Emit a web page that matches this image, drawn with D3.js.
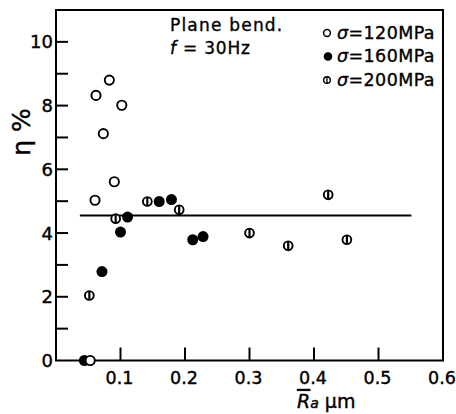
<!DOCTYPE html>
<html><head><meta charset="utf-8">
<script src="https://cdn.jsdelivr.net/npm/d3@7"></script>
<style>
html,body{margin:0;padding:0;background:#fff;}
svg{display:block;}
text{font-family:"DejaVu Sans",sans-serif;fill:#000;}
</style></head>
<body>
<svg id="chart" width="456" height="414"></svg>
<script>
// ---- data ----
const s120 = [[0.053,0],[0.0605,5.03],[0.062,8.32],[0.0734,7.12],[0.0827,8.80],[0.0904,5.61],[0.102,8.01]];
const s160 = [[0.044,0],[0.0713,2.79],[0.100,4.03],[0.111,4.50],[0.160,4.99],[0.179,5.05],[0.212,3.79],[0.228,3.89]];
const s200 = [[0.0517,2.04],[0.0925,4.45],[0.1416,4.99],[0.191,4.73],[0.300,4.00],[0.360,3.60],[0.422,5.20],[0.451,3.79]];
const meanLine = [[0.037,4.55],[0.551,4.55]];
const xTicks = [0.1,0.2,0.3,0.4,0.5,0.6];
const yTicks = [1,2,3,4,5,6,7,8,9,10];
const yLabels = [0,2,4,6,8,10];
const legendLabels = ["=120MPa","=160MPa","=200MPa"];
const noteLines = ["Plane bend.","= 30Hz"];

const svg = d3.select("#chart");
const x = d3.scaleLinear().domain([0,0.6]).range([56,443]);
const y = d3.scaleLinear().domain([0,11]).range([360.5,10]);

// frame
svg.append("rect").attr("x",x(0)).attr("y",y(11)).attr("width",x(0.6)-x(0)).attr("height",y(0)-y(11))
  .attr("fill","none").attr("stroke","#000").attr("stroke-width",2);

// y ticks (inward)
svg.append("g").selectAll("line").data(yTicks).join("line")
  .attr("x1",x(0)).attr("x2",x(0)+12).attr("y1",d=>y(d)).attr("y2",d=>y(d))
  .attr("stroke","#000").attr("stroke-width",2);
svg.append("g").selectAll("text").data(yLabels).join("text")
  .attr("x",x(0)-3).attr("y",d=>y(d)).attr("dy","0.36em").attr("text-anchor","end")
  .attr("font-size",18).attr("stroke","#000").attr("stroke-width",0.4).text(d=>d);

// x ticks (inward)
svg.append("g").selectAll("line").data(xTicks.filter(d=>d<0.6)).join("line")
  .attr("x1",d=>x(d)).attr("x2",d=>x(d)).attr("y1",y(0)).attr("y2",y(0)-13)
  .attr("stroke","#000").attr("stroke-width",2);
svg.append("g").selectAll("text").data(xTicks).join("text")
  .attr("x",d=>x(d)-1).attr("y",384).attr("text-anchor","middle")
  .attr("font-size",17.5).attr("stroke","#000").attr("stroke-width",0.4).text(d=>d.toFixed(1));

// axis titles
const xt = svg.append("text").attr("x",297).attr("y",408).attr("font-size",19).attr("stroke","#000").attr("stroke-width",0.4);
xt.append("tspan").attr("font-style","italic").style("text-decoration","overline").text("R");
xt.append("tspan").attr("font-style","italic").attr("font-size",14).text("a");
xt.append("tspan").text(" μm");

svg.append("text").attr("transform","translate(30,132) rotate(-90)")
  .attr("text-anchor","middle").attr("font-size",25).attr("stroke","#000").attr("stroke-width",0.4).text("η %");

// mean line
svg.append("path").datum(meanLine)
  .attr("d",d3.line().x(d=>x(d[0])).y(d=>y(d[1])))
  .attr("stroke","#000").attr("stroke-width",2).attr("fill","none");

// points
svg.append("g").selectAll("circle").data(s160).join("circle")
  .attr("cx",d=>x(d[0])).attr("cy",d=>y(d[1])).attr("r",5.5).attr("fill","#000");
svg.append("g").selectAll("circle").data(s120).join("circle")
  .attr("cx",d=>x(d[0])).attr("cy",d=>y(d[1])).attr("r",4.6)
  .attr("fill","#fff").attr("stroke","#000").attr("stroke-width",1.9);
const g200 = svg.append("g").selectAll("g").data(s200).join("g")
  .attr("transform",d=>`translate(${x(d[0])},${y(d[1])})`);
g200.append("circle").attr("r",4.4).attr("fill","#fff").attr("stroke","#000").attr("stroke-width",1.9);
g200.append("line").attr("x1",0).attr("x2",0).attr("y1",-4.4).attr("y2",4.4).attr("stroke","#000").attr("stroke-width",2.2);

// annotation
svg.append("text").attr("x",170).attr("y",31).attr("font-size",17).attr("letter-spacing",1.2)
  .attr("stroke","#000").attr("stroke-width",0.35).text(noteLines[0]);
const t2 = svg.append("text").attr("x",170).attr("y",54).attr("font-size",17).attr("letter-spacing",0.8)
  .attr("stroke","#000").attr("stroke-width",0.35);
t2.append("tspan").attr("font-style","italic").text("f");
t2.append("tspan").text(" " + noteLines[1]);

// legend
const rows = [33,56.5,80];
const lg = svg.append("g");
lg.append("circle").attr("cx",327).attr("cy",rows[0]).attr("r",3.4).attr("fill","#fff").attr("stroke","#000").attr("stroke-width",1.5);
lg.append("circle").attr("cx",328).attr("cy",rows[1]).attr("r",4.3).attr("fill","#000");
lg.append("circle").attr("cx",327).attr("cy",rows[2]).attr("r",3.3).attr("fill","#fff").attr("stroke","#000").attr("stroke-width",1.4);
lg.append("line").attr("x1",327).attr("x2",327).attr("y1",rows[2]-3.3).attr("y2",rows[2]+3.3).attr("stroke","#000").attr("stroke-width",1.3);
legendLabels.forEach((lab,i)=>{
  const t = lg.append("text").attr("x",337).attr("y",rows[i]+5.5).attr("font-size",17.5).attr("letter-spacing",0.4)
    .attr("stroke","#000").attr("stroke-width",0.35);
  t.append("tspan").attr("font-style","italic").text("σ");
  t.append("tspan").text(lab);
});
</script>
</body></html>
